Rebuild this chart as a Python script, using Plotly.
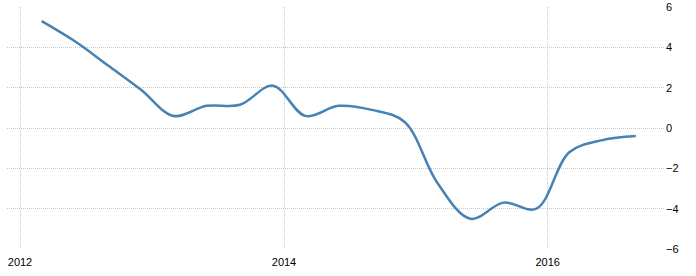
import plotly.graph_objects as go

dates = ["2012-03-01", "2012-06-01", "2012-09-01", "2012-12-01",
         "2013-03-01", "2013-06-01", "2013-09-01", "2013-12-01",
         "2014-03-01", "2014-06-01", "2014-09-01", "2014-12-01",
         "2015-03-01", "2015-06-01", "2015-09-01", "2015-12-01",
         "2016-03-01", "2016-06-01", "2016-09-01"]
values = [5.3, 4.3, 3.1, 1.9,
          0.6, 1.1, 1.15, 2.1,
          0.6, 1.1, 0.9, 0.3,
          -2.7, -4.5, -3.7, -4.0,
          -1.2, -0.6, -0.4]
x_ticks = ["2012-01-01", "2014-01-01", "2016-01-01"]
x_labels = ["2012", "2014", "2016"]
y_ticks = [-6, -4, -2, 0, 2, 4, 6]

fig = go.Figure()
fig.add_trace(go.Scatter(
    x=dates, y=values, mode="lines",
    line=dict(color="#4682B4", width=2.5, shape="spline", smoothing=1.0),
    hoverinfo="x+y",
))

fig.update_layout(
    width=696, height=276,
    margin=dict(l=7, r=31, t=7, b=27),
    paper_bgcolor="white", plot_bgcolor="white",
    showlegend=False,
    font=dict(family="Liberation Sans, Arial, sans-serif", size=11, color="#000000"),
)
fig.update_xaxes(
    type="date", automargin=False,
    range=["2011-11-26", "2016-11-21"],
    tickvals=x_ticks, ticktext=x_labels,
    showgrid=True, gridcolor="#c8c8c8", griddash="1px,1px", gridwidth=1,
    showline=False, zeroline=False,
    ticks="outside", ticklen=3, tickcolor="rgba(0,0,0,0)",
)
fig.update_yaxes(
    range=[-6, 6], side="right", automargin=False,
    tickvals=y_ticks,
    showgrid=True, gridcolor="#c8c8c8", griddash="1px,1px", gridwidth=1,
    showline=False, zeroline=False, ticks="",
)

fig.write_html("out.html")
